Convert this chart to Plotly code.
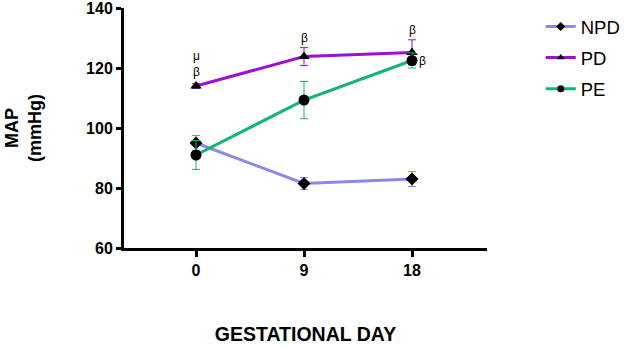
import plotly.graph_objects as go

days = [0, 9, 18]
npd = [95.0, 81.5, 83.0]
npd_err = [2.5, 2.0, 2.5]
pd_ = [114.0, 123.8, 125.2]
pd_err = [0.8, 3.0, 4.2]
pe = [91.0, 109.3, 122.5]
pe_err = [4.8, 6.2, 2.5]

series = [
    ("NPD", npd, npd_err, "#8b87f0", "diamond", 10),
    ("PD", pd_, pd_err, "#9b0fd6", "triangle-up", 10),
    ("PE", pe, pe_err, "#12b47c", "circle", 11),
]

# significance labels: (day, value, text, xshift, yshift)
sig_labels = [
    (0, 114.0, "μ<br>β", 0, 22),
    (9, 123.8, "β", 0, 19),
    (18, 125.2, "β", 0, 22),
    (18, 122.5, "β", 10, 0),
]

fig = go.Figure()
for name, vals, err, color, sym, size in series:
    fig.add_trace(go.Scatter(
        x=days, y=vals, name=name, mode="lines+markers", showlegend=False,
        line=dict(color=color, width=3),
        marker=dict(symbol=sym, color="black", size=size),
        error_y=dict(type="data", array=err, color=color, thickness=1, width=4),
    ))
# legend entries with small markers, as in the original
for name, vals, err, color, sym, size in series:
    fig.add_trace(go.Scatter(
        x=[None], y=[None], name=name, mode="lines+markers", legendgroup=name,
        line=dict(color=color, width=3),
        marker=dict(symbol=sym, color="black", size=7),
    ))

for d, v, t, xs, ys in sig_labels:
    fig.add_annotation(x=d, y=v, text=t, showarrow=False, xshift=xs, yshift=ys,
                       font=dict(family="Liberation Sans, Arial", size=12, color="#000000"))

fig.update_layout(
    width=624, height=347,
    margin=dict(l=124, r=137, t=8, b=99, autoexpand=False),
    plot_bgcolor="white", paper_bgcolor="white",
    font=dict(family="Liberation Sans, Arial", color="black"),
    legend=dict(x=1.148, y=1.0, xanchor="left", yanchor="top",
                font=dict(size=18.5), tracegroupgap=4, itemwidth=30),
    xaxis=dict(
        range=[-6, 24.25], tickvals=days, ticktext=["<b>0</b>", "<b>9</b>", "<b>18</b>"],
        showline=True, linecolor="black", linewidth=3, ticks="outside",
        ticklen=6, tickwidth=3, tickcolor="black", showgrid=False, zeroline=False,
        tickfont=dict(size=16), automargin=False, ticklabeloverflow="allow",
        title=dict(text="<b>GESTATIONAL DAY</b>", font=dict(size=19.5), standoff=50),
    ),
    yaxis=dict(
        range=[60, 140], tickvals=[60, 80, 100, 120, 140],
        ticktext=["<b>60</b>", "<b>80</b>", "<b>100</b>", "<b>120</b>", "<b>140</b>"],
        showline=True, linecolor="black", linewidth=3, ticks="outside",
        ticklen=5, tickwidth=3, tickcolor="black", showgrid=False, zeroline=False,
        tickfont=dict(size=16), automargin=False, ticklabeloverflow="allow",
        title=dict(text="<b>MAP</b><br><b>(mmHg)</b>", font=dict(size=18), standoff=40),
    ),
)

fig.write_html("out.html", config={"displayModeBar": False},
               post_script="document.body.style.margin='0';")
